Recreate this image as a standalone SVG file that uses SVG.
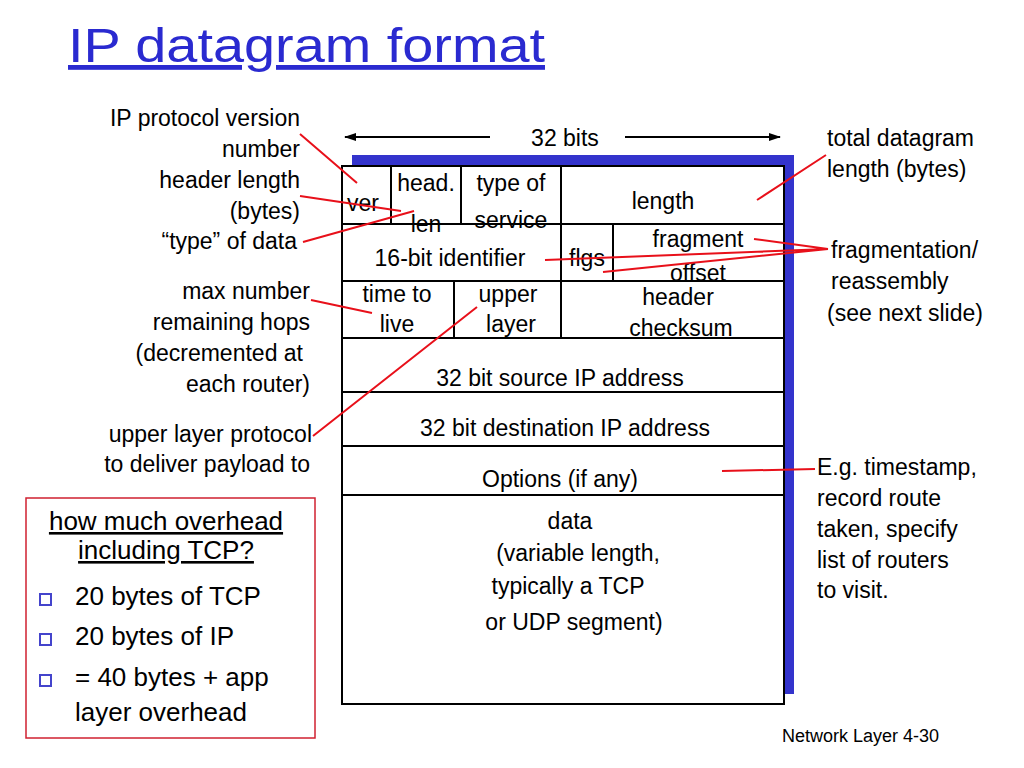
<svg xmlns="http://www.w3.org/2000/svg" width="1024" height="768" viewBox="0 0 1024 768">
<style>
text{font-family:"Liberation Sans",Arial,sans-serif;font-size:23px;fill:#000}
.m{text-anchor:middle}.e{text-anchor:end}
.r{stroke:#e8101a;stroke-width:2;fill:none}
.k{stroke:#000;stroke-width:2;fill:none}
.b{font-size:26px}
</style>
<defs><marker id="a" markerWidth="12" markerHeight="10" refX="11" refY="5" orient="auto-start-reverse" markerUnits="userSpaceOnUse"><path d="M0,1 L12,5 L0,9z" fill="#000"/></marker></defs>
<rect width="1024" height="768" fill="#fff"/>
<text x="68" y="62" style="fill:#2a2ad0;font-size:48px" textLength="477" lengthAdjust="spacingAndGlyphs" text-decoration="underline">IP datagram format</text>
<g id="header">
<rect x="352" y="155" width="442" height="539" fill="#3333cc"/>
<rect x="342" y="166" width="442" height="538" style="fill:#fff;stroke:#000;stroke-width:2"/>
<path class="k" d="M342,224H784M342,281H784M342,338H784M342,392H784M342,446H784M342,495H784M391,166V224M461,166V224M561,166V281M613,224V281M454,281V338M561,281V338"/>
<text x="347" y="211">ver</text>
<text x="426" y="191" class="m">head.</text>
<text x="426" y="232" class="m">len</text>
<text x="511" y="191" class="m">type of</text>
<text x="511" y="228" class="m">service</text>
<text x="663" y="209" class="m">length</text>
<text x="450" y="266" class="m">16-bit identifier</text>
<text x="587" y="266" class="m">flgs</text>
<text x="698" y="247" class="m">fragment</text>
<text x="698" y="281" class="m">offset</text>
<text x="397" y="302" class="m">time to</text>
<text x="397" y="332" class="m">live</text>
<text x="508" y="302" class="m">upper</text>
<text x="511" y="332" class="m">layer</text>
<text x="678" y="305" class="m">header</text>
<text x="681" y="336" class="m">checksum</text>
<text x="560" y="386" class="m">32 bit source IP address</text>
<text x="565" y="436" class="m">32 bit destination IP address</text>
<text x="560" y="487" class="m">Options (if any)</text>
<text x="570" y="529" class="m">data</text>
<text x="578" y="561" class="m">(variable length,</text>
<text x="568" y="594" class="m">typically a TCP</text>
<text x="574" y="630" class="m">or UDP segment)</text>
</g>
<g id="labels">
<text x="565" y="146" class="m">32 bits</text>
<text x="300" y="126" class="e">IP protocol version</text>
<text x="300" y="157" class="e">number</text>
<text x="300" y="188" class="e">header length</text>
<text x="300" y="219" class="e">(bytes)</text>
<text x="297" y="249" class="e">“type” of data</text>
<text x="310" y="299" class="e">max number</text>
<text x="310" y="330" class="e">remaining hops</text>
<text x="303" y="361" class="e">(decremented at</text>
<text x="310" y="392" class="e">each router)</text>
<text x="312" y="442" class="e">upper layer protocol</text>
<text x="310" y="472" class="e">to deliver payload to</text>
<text x="827" y="146">total datagram</text>
<text x="827" y="177">length (bytes)</text>
<text x="831" y="258">fragmentation/</text>
<text x="831" y="289">reassembly</text>
<text x="827" y="321">(see next slide)</text>
<text x="817" y="475">E.g. timestamp,</text>
<text x="817" y="506">record route</text>
<text x="817" y="537">taken, specify</text>
<text x="817" y="568">list of routers</text>
<text x="817" y="598">to visit.</text>
<text x="782" y="742" style="font-size:18px">Network Layer  4-30</text>
</g>
<g id="overhead">
<rect x="26" y="498" width="289" height="240" fill="none" stroke="#d02030" stroke-width="1.5"/>
<text x="166" y="530" class="m b" text-decoration="underline">how much overhead</text>
<text x="166" y="559" class="m b" text-decoration="underline">including TCP?</text>
<text x="75" y="605" class="b">20 bytes of TCP</text>
<text x="75" y="645" class="b">20 bytes of IP</text>
<text x="75" y="686" class="b">= 40 bytes + app</text>
<text x="75" y="721" class="b">layer overhead</text>
<g fill="#fff" stroke="#4444cc" stroke-width="2">
<rect x="40" y="594" width="11" height="11"/><rect x="40" y="634" width="11" height="11"/><rect x="40" y="675" width="11" height="11"/>
</g>
</g>
<g id="connectors">
<path class="k" stroke-width="1.5" d="M345,137H490" marker-start="url(#a)"/>
<path class="k" stroke-width="1.5" d="M625,137H780" marker-end="url(#a)"/>
<path class="r" d="M300,134L357,183M300,196L401,211M303,242L414,211M311,300L372,313M313,436L477,307M826,155L757,200M828,249L754,239M828,249L545,260M828,249L603,272M722,471L815,469"/>
</g>
</svg>
